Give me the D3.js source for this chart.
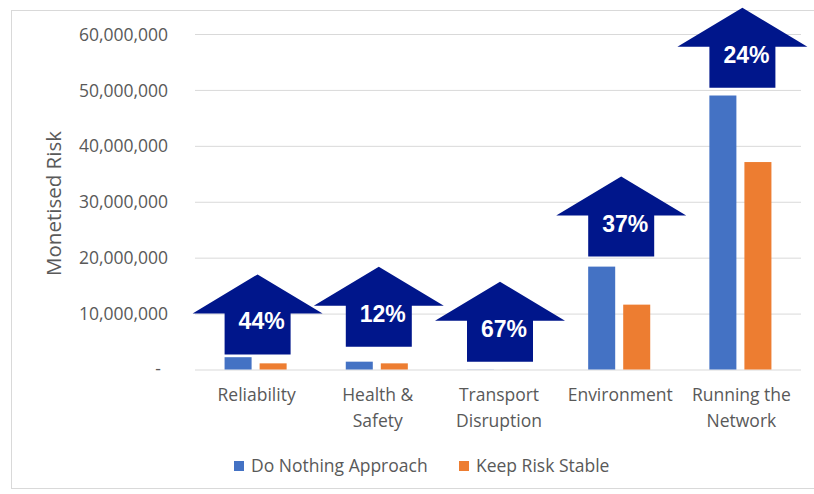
<!DOCTYPE html>
<html>
<head>
<meta charset="utf-8">
<script src="https://cdn.jsdelivr.net/npm/d3@7"></script>
<style>
  html, body { margin: 0; padding: 0; background: #ffffff; }
  svg { display: block; }
  text { font-family: "Open Sans", "Noto Sans", sans-serif; }
</style>
</head>
<body>
<svg id="chart" width="814" height="494"></svg>
<script>
// Risk categories (multi-line labels split on "\n")
const categories = ["Reliability", "Health &\nSafety", "Transport\nDisruption", "Environment", "Running the\nNetwork"];
const seriesNames = ["Do Nothing Approach", "Keep Risk Stable"];
// Monetised risk per category
const doNothing = [2200000, 1400000, 20000, 18400000, 49000000];
const keepStable = [1100000, 1100000, 10000, 11600000, 37100000];
// Percentage callouts and the risk level each callout arrow sits on
const arrowLabels = ["44%", "12%", "67%", "37%", "24%"];
const arrowBase = [2700000, 4050000, 1400000, 20200000, 50400000];
const yTicks = [0, 10000000, 20000000, 30000000, 40000000, 50000000, 60000000];

const colors = ["#4472C4", "#ED7D31"];
const arrowColor = "#00168B";
const textColor = "#595959";
const labelSize = "17.5px";

const svg = d3.select("#chart");

// chart frame
svg.append("rect")
  .attr("x", 11.5).attr("y", 10.5)
  .attr("width", 820).attr("height", 478)
  .attr("fill", "#fff").attr("stroke", "#d9d9d9").attr("stroke-width", 1);

const plot = { left: 195, right: 801, top: 34, bottom: 369.5 };

const y = d3.scaleLinear().domain([0, 60000000]).range([plot.bottom, plot.top]);
const x0 = d3.scaleBand().domain(d3.range(categories.length))
  .range([plot.left, plot.right]).paddingInner(0.488).paddingOuter(0.244);
const x1 = d3.scaleBand().domain([0, 1])
  .range([0, x0.bandwidth()]).paddingInner(0.2286).paddingOuter(0);
const xc = d3.scaleBand().domain(d3.range(categories.length))
  .range([plot.left, plot.right]);

// gridlines and value labels
const yAxis = d3.axisLeft(y).tickValues(yTicks).tickSize(-(plot.right - plot.left))
  .tickFormat(d => d === 0 ? "" : d3.format(",")(d));
const gy = svg.append("g").attr("transform", `translate(${plot.left},0)`).call(yAxis);
gy.select(".domain").remove();
gy.selectAll(".tick line").attr("stroke", "#d9d9d9").attr("stroke-width", 1);
gy.selectAll(".tick text")
  .attr("x", -27).attr("dy", "0.35em")
  .attr("fill", textColor).style("font-size", labelSize);
// zero label shown as a dash
gy.selectAll(".tick").filter(d => d === 0).append("text")
  .attr("x", -37).attr("dy", "0.3em").attr("text-anchor", "middle")
  .attr("fill", textColor).style("font-size", labelSize).text("-");

// y-axis title
svg.append("text")
  .attr("transform", "translate(54,203.5) rotate(-90)")
  .attr("text-anchor", "middle").attr("dy", "0.35em")
  .attr("fill", textColor).style("font-size", "20.5px")
  .text("Monetised Risk");

// bars
const series = [doNothing, keepStable];
series.forEach((vals, s) => {
  svg.append("g").selectAll("rect").data(vals).join("rect")
    .attr("x", (d, i) => x0(i) + x1(s))
    .attr("width", x1.bandwidth())
    .attr("y", d => y(d))
    .attr("height", d => y(0) - y(d))
    .attr("fill", colors[s]);
});

// category labels
const cat = svg.append("g").selectAll("text").data(categories).join("text")
  .attr("x", (d, i) => xc(i) + xc.bandwidth() / 2 + 1)
  .attr("y", 395)
  .attr("text-anchor", "middle").attr("fill", textColor).style("font-size", labelSize);
cat.each(function(d) {
  const lines = d.split("\n");
  d3.select(this).selectAll("tspan").data(lines).join("tspan")
    .attr("x", d3.select(this).attr("x"))
    .attr("dy", (l, j) => j === 0 ? "0.35em" : "26px")
    .text(l => l);
});

// block arrows with percentage callouts
const shaftHalf = 33, headHalf = 65, shaftH = 41, headH = 39;
const arrows = svg.append("g").selectAll("g").data(arrowLabels).join("g")
  .attr("transform", (d, i) => `translate(${xc(i) + xc.bandwidth() / 2 + 2},${y(arrowBase[i])})`);
arrows.append("path")
  .attr("fill", arrowColor)
  .attr("d", d3.line()([
    [-shaftHalf, 0], [shaftHalf, 0], [shaftHalf, -shaftH], [headHalf, -shaftH],
    [0, -shaftH - headH], [-headHalf, -shaftH], [-shaftHalf, -shaftH]
  ]) + "Z");
arrows.append("text")
  .attr("x", 4).attr("y", -33).attr("dy", "0.35em")
  .attr("text-anchor", "middle").attr("fill", "#fff")
  .style("font-family", "'Liberation Sans', Arial, sans-serif")
  .style("font-weight", "bold").style("font-size", "23px")
  .text(d => d);

// legend
const legendX = [234, 459];
const legend = svg.append("g").selectAll("g").data(seriesNames).join("g")
  .attr("transform", (d, i) => `translate(${legendX[i]},461)`);
legend.append("rect").attr("width", 10).attr("height", 10)
  .attr("fill", (d, i) => colors[i]);
legend.append("text").attr("x", 17).attr("y", 5).attr("dy", "0.35em")
  .attr("fill", textColor).style("font-size", labelSize)
  .text(d => d);
</script>
</body>
</html>
